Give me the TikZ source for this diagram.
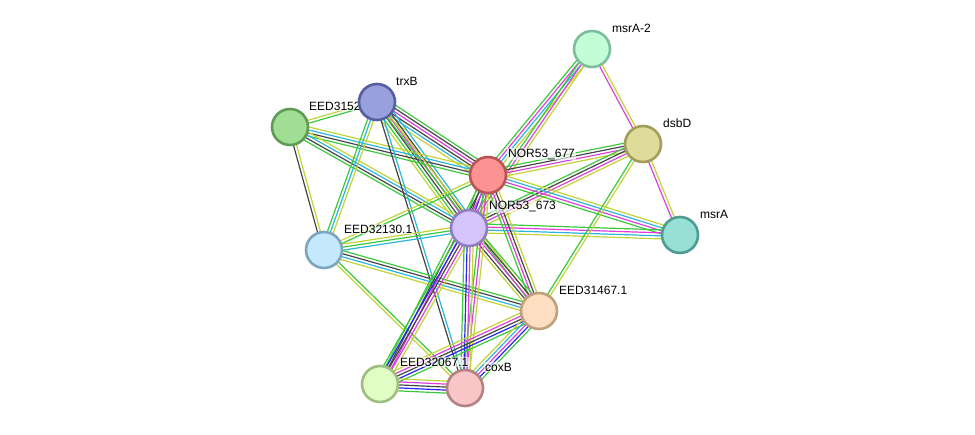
\documentclass[tikz,border=0pt]{standalone}
\usepackage{fontspec}
\setmainfont{Liberation Sans}
\usetikzlibrary{calc}
\definecolor{nbr}{HTML}{3CC83C}
\definecolor{tm}{HTML}{C2D435}
\definecolor{db}{HTML}{2DB4DC}
\definecolor{coex}{HTML}{454545}
\definecolor{exp}{HTML}{DD3FDD}
\definecolor{cooc}{HTML}{2626F5}
\pgfdeclarelayer{edges}
\pgfdeclarelayer{labels}
\pgfsetlayers{edges,labels,main}
\newcommand{\Edge}[3]{%
  \foreach \c [count=\i] in {#3} {\xdef\ncol{\i}}%
  \foreach \c [count=\i] in {#3} {%
    \pgfmathsetmacro\off{(\i-(\ncol+1)/2)*3}%
    \draw[\c, line width=1.2pt] ($(#1)!\off pt!90:(#2)$) -- ($(#2)!\off pt!-90:(#1)$);
  }}

\begin{document}
\begin{tikzpicture}[x=1pt,y=-1pt,
    prot/.style={circle,minimum size=36pt,inner sep=0pt,line width=2.6pt},
    lbl/.style={anchor=west,font=\fontsize{12}{14}\selectfont,fill=white,fill opacity=0.6,text opacity=1,inner sep=1pt}]
  \useasboundingbox (0,0) rectangle (975,434);

  \node[prot,fill={rgb,255:red,195;green,253;blue,216},draw={rgb,255:red,125;green,190;blue,155}] (msrA2) at (592,49) {};
  \node[prot,fill={rgb,255:red,222;green,220;blue,152},draw={rgb,255:red,160;green,158;blue,90}] (dsbD) at (643,144) {};
  \node[prot,fill={rgb,255:red,152;green,223;blue,214},draw={rgb,255:red,80;green,155;blue,145}] (msrA) at (680,235) {};
  \node[prot,fill={rgb,255:red,252;green,146;blue,146},draw={rgb,255:red,185;green,85;blue,85}] (n677) at (488,175) {};
  \node[prot,fill={rgb,255:red,212;green,196;blue,252},draw={rgb,255:red,145;green,125;blue,190}] (n673) at (469,228) {};
  \node[prot,fill={rgb,255:red,152;green,160;blue,222},draw={rgb,255:red,85;green,95;blue,160}] (trxB) at (377,102) {};
  \node[prot,fill={rgb,255:red,160;green,222;blue,148},draw={rgb,255:red,95;green,155;blue,85}] (e3152) at (290,127) {};
  \node[prot,fill={rgb,255:red,196;green,232;blue,252},draw={rgb,255:red,125;green,165;blue,190}] (e32130) at (324,250) {};
  \node[prot,fill={rgb,255:red,253;green,222;blue,192},draw={rgb,255:red,190;green,160;blue,125}] (e31467) at (539,311) {};
  \node[prot,fill={rgb,255:red,224;green,253;blue,196},draw={rgb,255:red,160;green,190;blue,130}] (e32067) at (380,384) {};
  \node[prot,fill={rgb,255:red,248;green,198;blue,198},draw={rgb,255:red,180;green,130;blue,130}] (coxB) at (465,388) {};

  \begin{pgfonlayer}{labels}
    \node[lbl] (tmsrA2) at ($(msrA2)+(19,-21)$) {msrA-2};
    \node[lbl] (tdsbD) at ($(dsbD)+(19,-21)$) {dsbD};
    \node[lbl] (tmsrA) at ($(msrA)+(19,-21)$) {msrA};
    \node[lbl] (t677) at ($(n677)+(19,-21)$) {NOR53\_677};
    \node[lbl] (t673) at ($(n673)+(19,-21)$) {NOR53\_673};
    \node[lbl] (ttrxB) at ($(trxB)+(18,-21)$) {trxB};
    \node[lbl] (t3152) at ($(e3152)+(18,-21)$) {EED3152};
    \node[lbl] (t32130) at ($(e32130)+(19,-21)$) {EED32130.1};
    \node[lbl] (t31467) at ($(e31467)+(19,-21)$) {EED31467.1};
    \node[lbl] (t32067) at ($(e32067)+(19,-22)$) {EED32067.1};
    \node[lbl] (tcoxB) at ($(coxB)+(19,-21)$) {coxB};
  \end{pgfonlayer}

  \begin{pgfonlayer}{edges}
    \Edge{n677}{msrA2}{tm,db,exp,nbr}
    \Edge{n673}{msrA2}{tm,exp,nbr}
    \Edge{n677}{dsbD}{tm,exp,coex,nbr}
    \Edge{n673}{dsbD}{tm,exp,coex,nbr}
    \Edge{n677}{msrA}{nbr,exp,db,tm}
    \Edge{n673}{msrA}{tm,db,exp,nbr}
    \Edge{msrA2}{dsbD}{exp,tm}
    \Edge{dsbD}{msrA}{exp,tm}
    \Edge{dsbD}{e31467}{nbr,tm}
    \Edge{trxB}{n677}{tm,db,coex,exp,coex,nbr}
    \Edge{trxB}{n673}{tm,nbr,coex,exp,coex,db}
    \Edge{e3152}{n677}{nbr,coex,db,tm}
    \Edge{e3152}{n673}{nbr,coex,db,tm}
    \Edge{e3152}{trxB}{nbr,tm}
    \Edge{e3152}{e32130}{coex,tm}
    \Edge{trxB}{e32130}{nbr,db,tm}
    \Edge{trxB}{coxB}{coex,db}
    \Edge{trxB}{e31467}{nbr,tm}
    \Edge{e32130}{n677}{nbr,tm}
    \Edge{e32130}{n673}{db,nbr,tm}
    \Edge{e32130}{e31467}{tm,db,coex,nbr}
    \Edge{e32130}{coxB}{tm,nbr}
    \Edge{n677}{n673}{nbr,coex,cooc,exp,tm}
    \Edge{n677}{e31467}{nbr,exp,coex,tm}
    \Edge{n673}{e31467}{tm,coex,exp,coex,nbr}
    \Edge{n677}{e32067}{nbr,coex,exp}
    \Edge{n673}{e32067}{nbr,cooc,coex,exp,tm}
    \Edge{n677}{coxB}{nbr,exp,tm}
    \Edge{n673}{coxB}{nbr,cooc,exp,tm}
    \Edge{e31467}{e32067}{tm,exp,coex,cooc,nbr}
    \Edge{e31467}{coxB}{tm,db,exp,cooc,nbr}
    \Edge{e32067}{coxB}{nbr,cooc,coex,exp,tm}
  \end{pgfonlayer}
\end{tikzpicture}
\end{document}
